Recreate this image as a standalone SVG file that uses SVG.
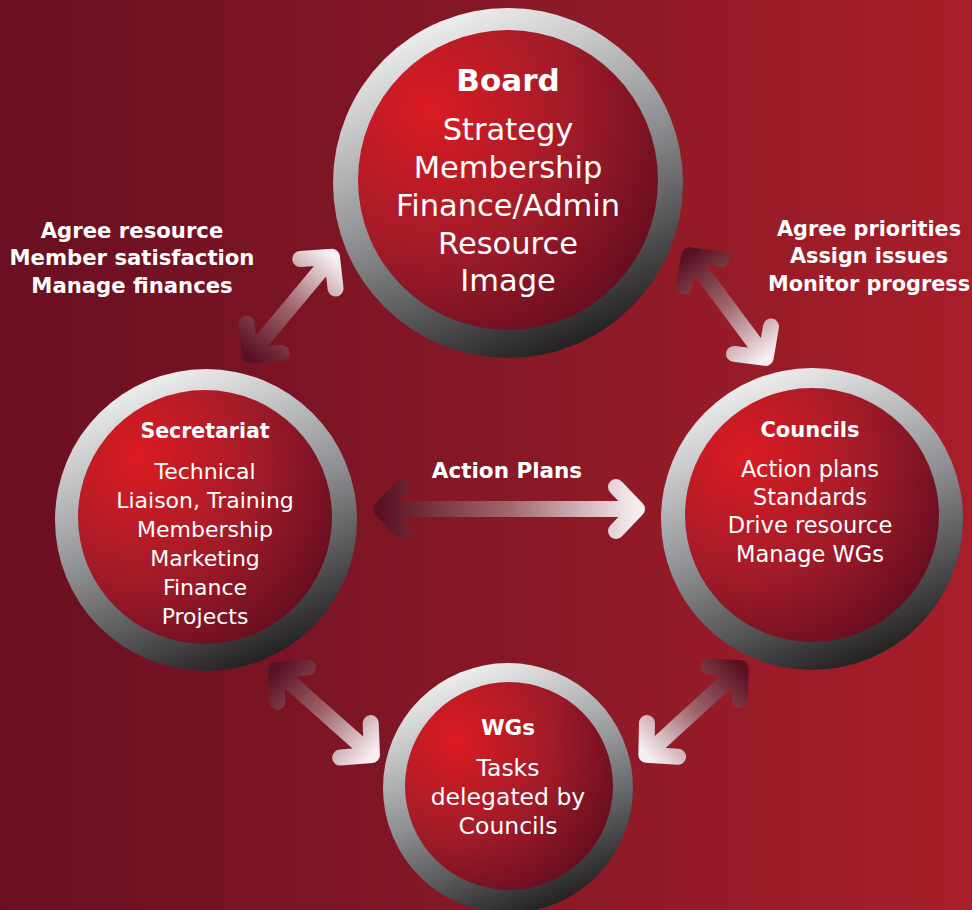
<svg xmlns="http://www.w3.org/2000/svg" width="972" height="910" viewBox="0 0 972 910">
  <defs>
    <linearGradient id="bg" x1="0" y1="0" x2="1" y2="0">
      <stop offset="0" stop-color="#690f21"/>
      <stop offset="0.5" stop-color="#861826"/>
      <stop offset="1" stop-color="#a71e2a"/>
    </linearGradient>
    <linearGradient id="ring" x1="0.3" y1="0" x2="0.7" y2="1">
      <stop offset="0" stop-color="#f4f4f4"/>
      <stop offset="0.5" stop-color="#8e8f92"/>
      <stop offset="1" stop-color="#1c191a"/>
    </linearGradient>
    <radialGradient id="core" cx="0.24" cy="0.27" r="0.95" fx="0.24" fy="0.27">
      <stop offset="0" stop-color="#dc1b22"/>
      <stop offset="0.5" stop-color="#a11b29"/>
      <stop offset="1" stop-color="#570a1c"/>
    </radialGradient>
    <linearGradient id="arr" x1="0" y1="0" x2="1" y2="0">
      <stop offset="0" stop-color="#5a1124"/>
      <stop offset="0.5" stop-color="#a2666f"/>
      <stop offset="1" stop-color="#f6eef0"/>
    </linearGradient>
  </defs>
  <style>
    .ring { fill: url(#ring); }
    .core { fill: url(#core); }
    .t { font-family: "DejaVu Sans", "Liberation Sans", sans-serif; fill: #ffffff; text-anchor: middle; }
    .h { font-weight: bold; }
    .lab { font-family: "DejaVu Sans", "Liberation Sans", sans-serif; fill: #ffffff; text-anchor: middle; font-weight: bold; }
    .arrow { fill: none; stroke: url(#arr); stroke-width: 16; stroke-linecap: round; stroke-linejoin: round; }
  </style>

  <rect x="0" y="0" width="972" height="910" fill="url(#bg)"/>

  <g id="board">
    <circle class="ring" cx="508" cy="183" r="175"/>
    <circle class="core" cx="508" cy="180" r="150"/>
    <text class="t h" x="508" y="91" font-size="31">Board</text>
    <text class="t" x="508" y="140" font-size="30.5">Strategy</text>
    <text class="t" x="508" y="178" font-size="30.5">Membership</text>
    <text class="t" x="508" y="216" font-size="30.5">Finance/Admin</text>
    <text class="t" x="508" y="254" font-size="30.5">Resource</text>
    <text class="t" x="508" y="291" font-size="30.5">Image</text>
  </g>

  <g id="secretariat">
    <circle class="ring" cx="206" cy="520" r="151"/>
    <circle class="core" cx="205" cy="517" r="127"/>
    <text class="t h" x="205" y="438" font-size="20.5">Secretariat</text>
    <text class="t" x="205" y="479" font-size="22">Technical</text>
    <text class="t" x="205" y="508" font-size="22">Liaison, Training</text>
    <text class="t" x="205" y="537" font-size="22">Membership</text>
    <text class="t" x="205" y="566" font-size="22">Marketing</text>
    <text class="t" x="205" y="595" font-size="22">Finance</text>
    <text class="t" x="205" y="624" font-size="22">Projects</text>
  </g>

  <g id="councils">
    <circle class="ring" cx="812" cy="519" r="151"/>
    <circle class="core" cx="812" cy="515" r="127"/>
    <text class="t h" x="810" y="437" font-size="21">Councils</text>
    <text class="t" x="810" y="477" font-size="22.5">Action plans</text>
    <text class="t" x="810" y="505" font-size="22.5">Standards</text>
    <text class="t" x="810" y="533" font-size="22.5">Drive resource</text>
    <text class="t" x="810" y="562" font-size="22.5">Manage WGs</text>
  </g>

  <g id="wgs">
    <circle class="ring" cx="508" cy="788" r="125"/>
    <circle class="core" cx="509" cy="786" r="104"/>
    <text class="t h" x="508" y="735" font-size="21.5">WGs</text>
    <text class="t" x="508" y="776" font-size="23.5">Tasks</text>
    <text class="t" x="508" y="805" font-size="23.5">delegated by</text>
    <text class="t" x="508" y="834" font-size="23.5">Councils</text>
  </g>

  <g id="connectors">
    <path class="arrow" transform="translate(291,306) rotate(-50.2)" d="M-64,0 H64 M42,-23 L64,0 L42,23 M-42,-23 L-64,0 L-42,23"/>
    <path class="arrow" transform="translate(727.5,306.5) rotate(53.4)" d="M-64,0 H64 M42,-23 L64,0 L42,23 M-42,-23 L-64,0 L-42,23"/>
    <path class="arrow" transform="translate(509,509)" d="M-128,0 H128 M107,-22 L128,0 L107,22 M-107,-22 L-128,0 L-107,22"/>
    <path class="arrow" transform="translate(324,712.5) rotate(41.5)" d="M-64,0 H64 M42,-23 L64,0 L42,23 M-42,-23 L-64,0 L-42,23"/>
    <path class="arrow" transform="translate(693.5,711.5) rotate(137.5)" d="M-64,0 H64 M42,-23 L64,0 L42,23 M-42,-23 L-64,0 L-42,23"/>
    <g id="connector-labels">
      <text class="lab" x="132" y="238" font-size="21.2">Agree resource</text>
      <text class="lab" x="132" y="265" font-size="21.2">Member satisfaction</text>
      <text class="lab" x="132" y="293" font-size="21.2">Manage finances</text>
      <text class="lab" x="869" y="236" font-size="20.8">Agree priorities</text>
      <text class="lab" x="869" y="263" font-size="20.8">Assign issues</text>
      <text class="lab" x="869" y="291" font-size="20.8">Monitor progress</text>
      <text class="lab" x="507" y="478" font-size="21.5">Action Plans</text>
    </g>
  </g>
</svg>
